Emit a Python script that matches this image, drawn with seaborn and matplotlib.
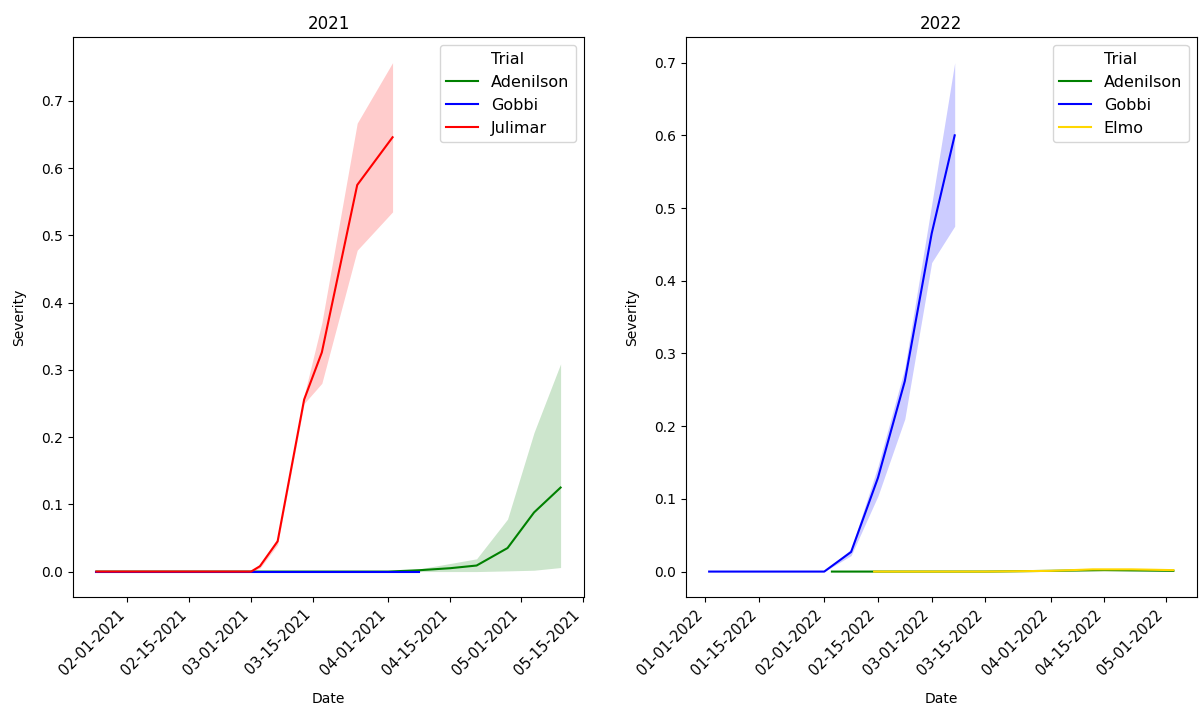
import pandas as pd
import matplotlib
matplotlib.use("Agg")
import matplotlib.pyplot as plt
import matplotlib.dates as mdates
import seaborn as sns

palette = {"Adenilson": "green", "Gobbi": "blue", "Julimar": "red", "Elmo": "gold"}

### 2021 ###
ade21_dates = ["2021-01-25", "2021-02-08", "2021-02-22", "2021-03-08", "2021-03-22",
               "2021-04-01", "2021-04-08", "2021-04-15", "2021-04-21", "2021-04-28",
               "2021-05-04", "2021-05-10"]
ade21_mean = [0, 0, 0, 0, 0, 0, 0.002, 0.005, 0.009, 0.035, 0.088, 0.125]
ade21_lo = [0, 0, 0, 0, 0, 0, 0.000, 0.000, 0.000, 0.001, 0.002, 0.006]
ade21_hi = [0, 0, 0, 0, 0, 0, 0.004, 0.012, 0.019, 0.078, 0.207, 0.309]

gob21_dates = ["2021-01-25", "2021-02-01", "2021-02-08", "2021-02-15", "2021-02-22",
               "2021-03-01", "2021-03-07", "2021-03-13", "2021-03-17", "2021-03-25",
               "2021-04-02", "2021-04-08"]
gob21_mean = [0] * 12

jul21_dates = ["2021-01-25", "2021-02-01", "2021-02-08", "2021-02-15", "2021-02-22",
               "2021-03-01", "2021-03-03", "2021-03-07", "2021-03-13", "2021-03-17",
               "2021-03-25", "2021-04-02"]
jul21_mean = [0, 0, 0, 0, 0, 0, 0.008, 0.045, 0.256, 0.326, 0.575, 0.646]
jul21_lo = [0, 0, 0, 0, 0, 0, 0.005, 0.040, 0.250, 0.280, 0.478, 0.535]
jul21_hi = [0, 0, 0, 0, 0, 0, 0.011, 0.050, 0.262, 0.370, 0.667, 0.757]

### 2022 ###
ade22_dates = ["2022-02-03", "2022-02-14", "2022-03-01", "2022-03-15", "2022-04-01",
               "2022-04-15", "2022-05-03"]
ade22_mean = [0, 0, 0, 0, 0.001, 0.002, 0.001]

gob22_dates = ["2022-01-02", "2022-01-15", "2022-02-01", "2022-02-08", "2022-02-15",
               "2022-02-22", "2022-03-01", "2022-03-07"]
gob22_mean = [0, 0, 0, 0.027, 0.129, 0.262, 0.465, 0.600]
gob22_lo = [0, 0, 0, 0.022, 0.104, 0.210, 0.425, 0.475]
gob22_hi = [0, 0, 0, 0.031, 0.145, 0.280, 0.505, 0.700]

elmo22_dates = ["2022-02-14", "2022-03-01", "2022-03-15", "2022-04-01", "2022-04-12",
                "2022-04-22", "2022-05-03"]
elmo22_mean = [0, 0, 0, 0.001, 0.003, 0.003, 0.002]
elmo22_lo = [0, 0, 0, 0.000, 0.001, 0.001, 0.001]
elmo22_hi = [0, 0, 0, 0.002, 0.005, 0.005, 0.004]


def make_df(trial, dates, mean, lo=None, hi=None):
    df = pd.DataFrame({"Date": pd.to_datetime(dates), "Severity": mean})
    df["lo"] = lo if lo is not None else mean
    df["hi"] = hi if hi is not None else mean
    df["Trial"] = trial
    return df


df21 = pd.concat([
    make_df("Adenilson", ade21_dates, ade21_mean, ade21_lo, ade21_hi),
    make_df("Gobbi", gob21_dates, gob21_mean),
    make_df("Julimar", jul21_dates, jul21_mean, jul21_lo, jul21_hi),
], ignore_index=True)

df22 = pd.concat([
    make_df("Adenilson", ade22_dates, ade22_mean),
    make_df("Gobbi", gob22_dates, gob22_mean, gob22_lo, gob22_hi),
    make_df("Elmo", elmo22_dates, elmo22_mean, elmo22_lo, elmo22_hi),
], ignore_index=True)


def plot_year(df, ax, title):
    for trial, sub in df.groupby("Trial", sort=False):
        ax.fill_between(sub["Date"], sub["lo"], sub["hi"], color=palette[trial],
                        alpha=0.2, linewidth=0)
    sns.lineplot(data=df, x="Date", y="Severity", hue="Trial", palette=palette, ax=ax)
    ax.set_title(title, fontsize=12)
    ax.set_xlabel("Date", labelpad=10)
    ax.set_ylabel("Severity", labelpad=11)
    ax.xaxis.set_major_locator(mdates.DayLocator(bymonthday=[1, 15]))
    ax.xaxis.set_major_formatter(mdates.DateFormatter("%m-%d-%Y"))
    plt.setp(ax.get_xticklabels(), rotation=45, ha="right", fontsize=10.5)
    ax.legend(title="Trial", loc="upper right", fontsize=11.5, title_fontsize=11.5)


fig, axes = plt.subplots(1, 2, figsize=(11.99, 7.15), dpi=100)
plot_year(df21, axes[0], "2021")
plot_year(df22, axes[1], "2022")

plt.subplots_adjust(left=0.061, right=0.998, top=0.948, bottom=0.165, wspace=0.2)
plt.savefig("out.png", dpi=100)
